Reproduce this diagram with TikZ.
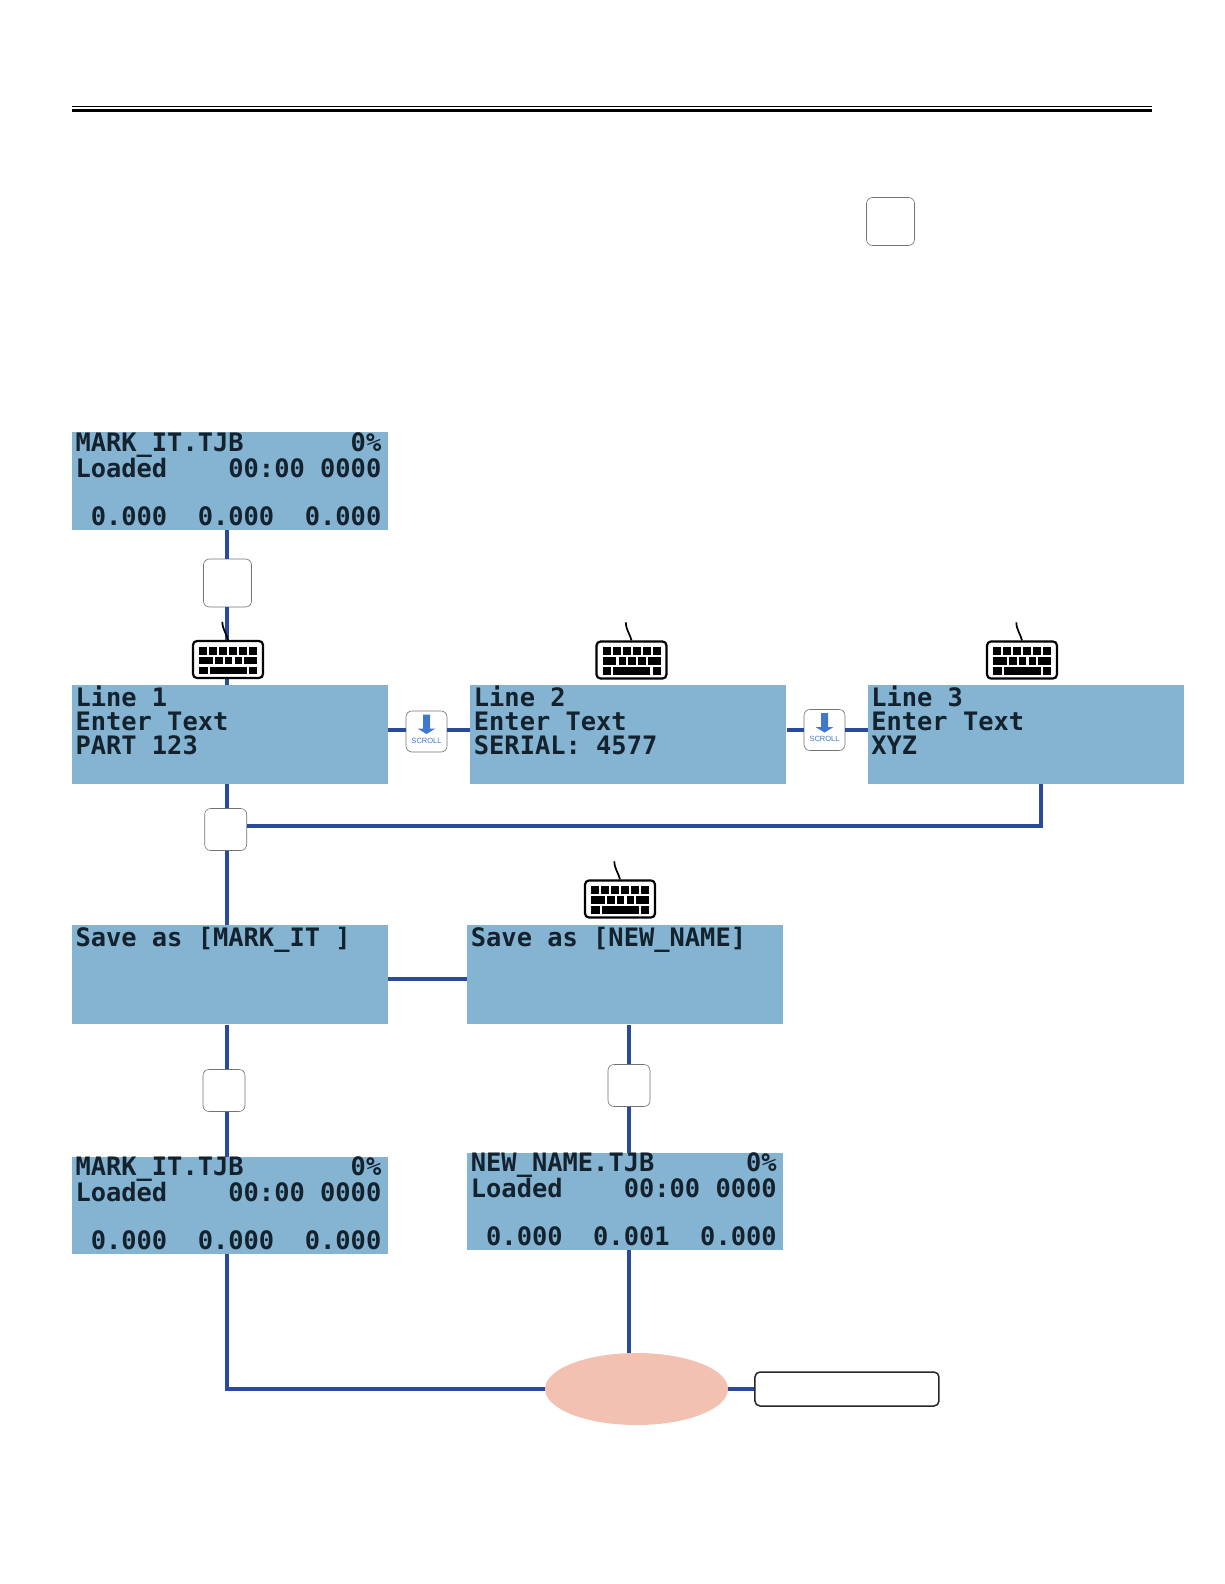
\documentclass[tikz,border=0pt]{standalone}
\usepackage{fontspec}
\usepackage{xcolor}
\usetikzlibrary{positioning, arrows.meta, shapes.geometric, calc}
\setmainfont{Liberation Sans}
\newfontfamily\lcdface{DejaVu Sans Mono}
\definecolor{cLCD}{HTML}{85B4D3}
\definecolor{cLCDTEXT}{HTML}{14222E}
\definecolor{cWIRE}{HTML}{2A4B9B}
\definecolor{cSTOP}{HTML}{F2C1B1}
\definecolor{cSCROLL}{HTML}{3F78CC}
\tikzset{
  lcdbox/.style={
    fill=cLCD,
    text=cLCDTEXT,
    inner sep=0pt,
    align=left,
    text width=309pt,
    minimum width=316pt,
    minimum height=99pt,
    font=\lcdface\bfseries\fontsize{25.4}{24}\selectfont
  },
  statusbox/.style={
    lcdbox,
    minimum height=97pt
  },
  keybtn/.style={
    draw=black!55, line width=0.6pt,
    rounded corners=6pt,
    fill=white,
    inner sep=0pt,
    minimum width=#1,
    minimum height=#1
  },
  scrollbtn/.style={
    keybtn=41pt
  },
  kbdbox/.style={
    draw=black, line width=2.2pt,
    rounded corners=4pt,
    fill=white,
    inner sep=0pt,
    minimum width=70pt,
    minimum height=37pt
  },
  wire/.style={
    line width=3.3pt,
    draw=cWIRE
  }
}
\newcommand{\lcd}[4]{%
  \def~{\hspace*{15.29pt}}%
  \leavevmode\rule{0pt}{18pt}#1\\\leavevmode#2\\\leavevmode#3\\\leavevmode#4\rule[-4pt]{0pt}{4pt}%
}
% cable and keys of a keyboard node
\newcommand{\kbdkeys}[1]{%
  \begin{scope}[shift={(#1.center)}]
    \draw[line width=1.7pt] (#1.north) .. controls (-1.5,-26) and (-5.5,-30) .. (-5.7,-37.7);
    \foreach \xa in {-29,-19,-9,1,11,21}
      \fill (\xa,-13) rectangle +(8,8);
    \foreach \xa/\xb in {-29/-15.5,-13/-5.3,-3.3/4.3,6.7/14.3,16/29}
      \fill (\xa,-3) rectangle (\xb,4.7);
    \foreach \xa/\xb in {-29/-20.3,-18.3/18.7,21/29}
      \fill (\xa,7) rectangle (\xb,14.7);
  \end{scope}
}
% arrow of a scroll button
\newcommand{\scrollarrow}[1]{%
  \fill[cSCROLL, shift={(#1.center)}] (-3.5,-17) -- (3.5,-17) -- (3.5,-3) -- (9,-3) -- (0,2.5) -- (-9,-3) -- (-3.5,-3) -- cycle;
}

\begin{document}
\begin{tikzpicture}[x=1pt, y=-1pt]
  \useasboundingbox (0,0) rectangle (1224,1584);

  \draw[line width=1.2pt] (72,106.3) -- (1152,106.3);
  \draw[line width=3.2pt] (72,110.3) -- (1152,110.3);

  \coordinate (trunkL) at (227,0);
  \coordinate (trunkR) at (629,0);
  \coordinate (scrollrow) at (0,730);
  \coordinate (saverow) at (0,979);
  \coordinate (turn) at (1041,826);

  \node[statusbox] (loaded) at (230,481) {\lcd{MARK\_IT.TJB~~~~~~~0\%}{Loaded~~~~00:00~0000}{}{~0.000~~0.000~~0.000}};
  \node[lcdbox, below=155pt of loaded] (line1) {\lcd{Line~1}{Enter~Text}{PART~123}{}};
  \node[lcdbox, right=82pt of line1] (line2) {\lcd{Line~2}{Enter~Text}{SERIAL:~4577}{}};
  \node[lcdbox, right=81pt of line2] (line3) {\lcd{Line~3}{Enter~Text}{XYZ}{}};
  \node[lcdbox, below=141pt of line1] (save1) {\lcd{Save~as~[MARK\_IT~]}{}{}{}};
  \node[lcdbox, right=79pt of save1] (save2) {\lcd{Save~as~[NEW\_NAME]}{}{}{}};
  \node[statusbox, below=132pt of save1] (done1) {\lcd{MARK\_IT.TJB~~~~~~~0\%}{Loaded~~~~00:00~0000}{}{~0.000~~0.000~~0.000}};
  \node[statusbox, below=128pt of save2] (done2) {\lcd{NEW\_NAME.TJB~~~~~~0\%}{Loaded~~~~00:00~0000}{}{~0.000~~0.001~~0.000}};

  \node[keybtn=48pt] (btn0) at (890.5,221.5) {};
  \node[keybtn=48pt] (btn1) at (227.5,583) {};
  \node[keybtn=42pt] (btn2) at (225.7,829.5) {};
  \node[keybtn=42pt] (btn3) at (224,1090.5) {};
  \node[keybtn=42pt] (btn4) at (629,1085.5) {};

  \node[scrollbtn] (scroll1) at (426.5,731.5) {};
  \node[scrollbtn] (scroll2) at (824.5,730) {};
  \node[font=\fontsize{7.5}{9}\selectfont, text=cSCROLL, inner sep=0pt, below=9pt of scroll1.center, anchor=center] (scroll1txt) {SCROLL};
  \node[font=\fontsize{7.5}{9}\selectfont, text=cSCROLL, inner sep=0pt, below=9pt of scroll2.center, anchor=center] (scroll2txt) {SCROLL};
  \scrollarrow{scroll1}
  \scrollarrow{scroll2}

  \node[ellipse, fill=cSTOP, inner sep=0pt, minimum width=183pt, minimum height=72pt] (stop) at (636.5,1389) {};
  \node[draw=black!85, line width=1.5pt, rounded corners=5pt, fill=white, inner sep=0pt, minimum width=184pt, minimum height=34pt, right=26pt of stop] (namebox) {};

  \draw[wire] (loaded.south -| trunkL) -- (btn1.north -| trunkL);
  \draw[wire] (btn1.south -| trunkL) -- (line1.north -| trunkL);
  \draw[wire] (line1.east |- scrollrow) -- (scroll1.west |- scrollrow);
  \draw[wire] (scroll1.east |- scrollrow) -- (line2.west |- scrollrow);
  \draw[wire] (line2.east |- scrollrow) -- (scroll2.west |- scrollrow);
  \draw[wire] (scroll2.east |- scrollrow) -- (line3.west |- scrollrow);
  \draw[wire] (line1.south -| trunkL) -- (btn2.north -| trunkL);
  \draw[wire] (btn2.south -| trunkL) -- (save1.north -| trunkL);
  \draw[wire] (line3.south -| turn) -- (turn) -- (btn2.east |- turn);
  \draw[wire] (save1.east |- saverow) -- (save2.west |- saverow);
  \draw[wire] (save1.south -| trunkL) -- (btn3.north -| trunkL);
  \draw[wire] (btn3.south -| trunkL) -- (done1.north -| trunkL);
  \draw[wire] (save2.south -| trunkR) -- (btn4.north -| trunkR);
  \draw[wire] (btn4.south -| trunkR) -- (done2.north -| trunkR);
  \draw[wire] (done1.south -| trunkL) -- (trunkL |- stop) -- (stop);
  \draw[wire] (done2.south -| trunkR) -- (stop.north -| trunkR);
  \draw[wire] (stop) -- (namebox);

  \node[kbdbox] (kbd1) at (228,659.5) {};
  \node[kbdbox] (kbd2) at (631.5,660) {};
  \node[kbdbox] (kbd3) at (1022,660) {};
  \node[kbdbox] (kbd4) at (620,899) {};
  \kbdkeys{kbd1}
  \kbdkeys{kbd2}
  \kbdkeys{kbd3}
  \kbdkeys{kbd4}
\end{tikzpicture}
\end{document}
